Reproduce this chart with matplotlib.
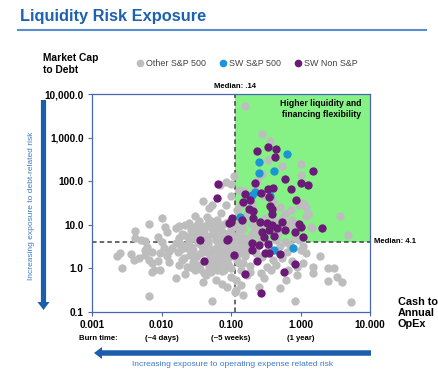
import matplotlib
matplotlib.use("Agg")
import matplotlib.pyplot as plt
from matplotlib.lines import Line2D
from matplotlib.patches import FancyArrow

plt.rcParams['font.family'] = ['Liberation Sans', 'DejaVu Sans']

# axis ticks
x_ticks = [0.001, 0.01, 0.1, 1, 10]
x_labels = ["0.001", "0.010", "0.100", "1.000", "10.000"]
burn_labels = ["(~4 days)", "(~5 weeks)", "(1 year)"]
y_ticks = [0.1, 1, 10, 100, 1000, 10000]
y_labels = ["0.1", "1.0", "10.0", "100.0", "1,000.0", "10,000.0"]

median_x = 0.115   # drawn position of the ".14" median line
median_y = 4.1

# SW Non S&P (purple)
non_sp_x = [0.24, 0.34, 0.45, 0.43, 1.5, 0.6, 1.02, 1.3, 0.22, 0.72, 0.34, 0.4,
            0.16, 0.27, 0.35, 0.86, 0.15, 0.19, 0.36, 0.39, 0.18, 0.21, 0.39,
            0.105, 0.094, 0.145, 0.21, 0.26, 0.33, 0.39, 0.54, 0.94, 1.02, 2.05,
            0.28, 0.35, 0.46, 0.6, 0.82, 0.41, 0.3, 1.07, 0.092, 0.2, 0.25, 0.34,
            0.2, 0.31, 0.35, 0.51, 0.11, 0.24, 0.82, 0.16, 0.58, 0.27, 0.064,
            0.062, 0.036, 0.041, 0.089, 0.1]
non_sp_y = [500, 610, 550, 360, 170, 115, 92, 83, 92, 65, 65, 70,
            50, 55, 44, 37, 33, 37, 27, 23, 23, 21, 17.5,
            14, 11, 13, 14, 11.7, 10.8, 9.8, 11.7, 10.2, 9, 8.5,
            6.9, 7.5, 8.3, 7.8, 6.9, 5.6, 5.3, 5.3, 4.7, 3.9, 3.4, 3.55,
            2.7, 2.3, 2.3, 2.1, 2.0, 1.5, 1.25, 0.74, 0.84, 0.27, 86,
            42, 4.6, 1.47, 4.6, 11.7]

# SW S&P 500 (blue)
sw_sp_x = [0.65, 0.25, 0.25, 0.41, 0.22, 0.36, 0.134, 0.42, 0.77, 0.2]
sw_sp_y = [420, 270, 155, 168, 57, 45, 15, 2.6, 2.9, 48]

# Other S&P 500 (grey)
other_x = [0.16, 0.28, 0.36, 0.34, 0.54, 1.0, 1.0, 0.11, 0.085, 0.07, 0.13, 0.085,
           0.94, 1.2, 1.3, 3.7, 4.9, 1.4, 0.74, 0.82, 1.45, 1.03, 1.9, 1.07, 1.5,
           1.5, 2.5, 3.0, 3.3, 2.5, 4.0, 0.82, 5.4, 0.88, 0.67, 0.0067, 0.054,
           0.114, 0.15, 0.01, 0.0067, 0.0114, 0.0041, 0.0041, 0.005, 0.0057,
           0.0025, 0.0023, 0.0027, 0.0037, 0.004, 0.0047, 0.0057, 0.0072, 0.0079,
           0.0061, 0.0067, 0.0074, 0.0088, 0.0103, 0.0057, 0.0074, 0.0094, 0.012,
           0.016, 0.018, 0.021, 0.014, 0.017, 0.0235, 0.013, 0.018, 0.0235, 0.0094,
           0.028, 0.03, 0.038, 0.049, 0.049, 0.04, 0.032, 0.033, 0.044, 0.052,
           0.061, 0.061, 0.057, 0.054, 0.072, 0.063, 0.052, 0.027, 0.041, 0.057,
           0.027, 0.072, 0.11, 0.14, 0.063, 0.088, 0.12, 0.15, 0.027, 0.041, 0.063,
           0.1, 0.118, 0.088, 0.118, 0.25, 0.19, 0.27, 0.1, 0.153, 1.1, 1.3, 1.2,
           0.035, 0.045, 0.03, 0.022, 0.065, 0.075, 0.09, 0.1, 0.12, 0.13, 0.16,
           0.18, 0.2, 0.22, 0.25, 0.3, 0.35, 0.45, 0.5, 0.6, 0.7, 0.28, 0.4, 0.45,
           0.33, 0.23, 0.17, 0.13, 0.095, 0.08, 0.07, 0.05, 0.045, 0.038, 0.025,
           0.02, 0.016, 0.011, 0.012, 0.02, 0.028, 0.035, 0.055, 0.075, 0.1, 0.14,
           0.17, 0.19, 0.3, 0.06, 0.04, 0.075, 0.14, 0.022, 0.06, 0.08, 0.095,
           0.11, 0.045, 0.035, 0.065, 0.15, 0.17, 0.2, 0.18, 0.22, 0.24, 0.28,
           0.3, 0.4, 0.5, 0.55, 0.65, 0.75, 0.12, 0.14, 0.1, 0.15, 0.2, 0.26,
           0.31, 0.42, 0.48, 0.6, 0.8, 0.95, 1.1, 0.65, 0.55, 0.75, 0.9, 1.2,
           0.38, 0.62, 0.5, 0.03, 0.016, 0.013, 0.009,
           # dense core of the cloud
           0.02, 0.024, 0.029, 0.034, 0.04, 0.047, 0.056, 0.067, 0.078, 0.09,
           0.105, 0.125, 0.019, 0.023, 0.028, 0.033, 0.039, 0.046, 0.054, 0.065,
           0.076, 0.088, 0.1, 0.12, 0.14, 0.021, 0.026, 0.031, 0.037, 0.043,
           0.05, 0.059, 0.07, 0.082, 0.095, 0.11, 0.13, 0.16, 0.018, 0.025,
           0.032, 0.042, 0.052, 0.062, 0.073, 0.085, 0.097, 0.115, 0.135, 0.027,
           0.036, 0.048, 0.058, 0.068, 0.08, 0.092, 0.17, 0.19, 0.21, 0.23]
other_y = [5300, 1200, 830, 300, 220, 250, 140, 130, 95, 81, 62, 28,
           28, 16, 17, 16, 5.8, 8.9, 22, 8.9, 8.4, 2.6, 1.9, 1.3, 1.07,
           0.78, 1.0, 1.0, 0.63, 0.51, 0.5, 0.18, 0.17, 0.7, 0.91, 0.23, 0.18,
           0.29, 0.24, 14, 10.4, 8.9, 7.2, 5.0, 4.5, 4.3,
           2.2, 1.9, 1.0, 2.1, 1.6, 1.7, 2.6, 0.82, 0.91,
           3.1, 1.55, 1.3, 5.2, 4.0, 2.0, 2.4, 2.2, 6.8,
           8.4, 5.0, 5.8, 2.9, 2.4, 2.9, 1.4, 1.2, 1.07, 0.91,
           8.4, 5.0, 8.4, 11.5, 24, 35, 2.0, 1.0, 0.7, 0.82,
           1.2, 2.9, 5.8, 28, 18.5, 12.8, 8.9, 7.6, 7.6, 6.5,
           3.1, 3.8, 3.1, 3.8, 1.8, 1.3, 1.55, 1.32, 1.07, 0.78, 0.91,
           0.63, 0.54, 0.37, 0.32, 0.37, 0.82, 0.78, 85, 60, 32, 18.5, 26,
           12, 15, 16, 10, 9, 7, 6, 8, 10, 6.5, 5,
           4.5, 6, 8, 5.5, 4.5, 3, 4.5, 3.2, 4, 3.5, 1.8, 1.6, 1.2,
           1.1, 2.2, 2.5, 2.2, 2.5, 2.0, 1.5, 1.6, 2.4, 3.2, 4.2,
           3.5, 3.8, 3.0, 1.9, 1.6, 1.4, 1.2, 1.05, 0.85, 1.0, 0.9,
           0.7, 1.15, 0.6, 0.55, 0.5, 0.45, 0.42, 0.75, 4.5, 5.0, 3.5,
           4.5, 5.5, 7, 2.3, 12, 18, 30, 40, 70, 100, 150,
           45, 35, 25, 14, 10, 13, 22, 30, 45, 8, 10.5, 9,
           14, 12.5, 6.5, 18, 5, 4.5, 3.2, 2.4, 1.7, 1.5, 1.1, 2.2,
           0.9, 0.55, 0.35, 0.9, 0.6, 2.5, 1.5,
           6.2, 5.3, 6.8, 4.9, 6.0, 4.2, 7.2, 5.4, 6.6, 4.8,
           5.9, 4.6, 2.8, 3.3, 2.6, 3.9, 2.9, 3.6, 2.7, 3.2,
           2.5, 3.0, 2.7, 3.4, 2.6, 1.7, 2.0, 1.8, 2.2, 1.5,
           1.9, 1.3, 1.7, 1.4, 1.8, 2.0, 1.3, 1.9, 9.5, 11,
           10, 9.2, 12, 10.5, 9.8, 11, 12.5, 9.5, 8.6, 1.05,
           0.95, 1.1, 0.98, 1.12, 0.9, 1.25, 3.3, 2.8, 3.8, 3.0]

W, H = 439, 381
fig = plt.figure(figsize=(W / 100, H / 100), dpi=100)
ax = fig.add_axes([92 / W, 1 - 312 / H, 278 / W, 218 / H])
ax.set_xscale('log')
ax.set_yscale('log')
ax.set_xlim(0.001, 10)
ax.set_ylim(0.1, 10000)

# high liquidity quadrant
ax.fill_between([median_x, 10], median_y, 10000, color='#86F286', lw=0, zorder=0)
ax.axvline(median_x, color='#404040', ls=(0, (3, 2)), lw=1.1, zorder=1)
ax.axhline(median_y, color='#404040', ls=(0, (3, 2)), lw=1.1, zorder=1)

ms = 36
ax.scatter(other_x, other_y, s=ms, color='#BDBDBD', lw=0, zorder=2)
ax.scatter(sw_sp_x, sw_sp_y, s=ms, color='#1B95D6', lw=0, zorder=3)
ax.scatter(non_sp_x, non_sp_y, s=ms, color='#6B1A78', lw=0, zorder=4)

for sp in ax.spines.values():
    sp.set_color('#4A66B0')
    sp.set_linewidth(0.9)
ax.set_xticks(x_ticks)
ax.set_xticklabels(x_labels, fontsize=7.2, fontweight='bold')
ax.set_yticks(y_ticks)
ax.set_yticklabels(y_labels, fontsize=7.2, fontweight='bold')
ax.minorticks_off()
ax.tick_params(axis='both', length=3, width=0.8, color='#4A66B0', pad=3)

ax.text(median_x, 10000 * 1.25, "Median: .14", ha='center', va='bottom',
        fontsize=5.6, fontweight='bold')
ax.text(11.5, median_y, "Median: 4.1", ha='left', va='center',
        fontsize=5.6, fontweight='bold')
ax.text(0.824, 0.975, "Higher liquidity and\nfinancing flexibility", transform=ax.transAxes,
        ha='center', va='top', fontsize=6.2, fontweight='bold', linespacing=1.15)

# burn time row
fig.text(98 / W, 1 - 338 / H, "Burn time:", ha='center', va='center',
         fontsize=5.6, fontweight='bold')
for xv, lab in zip(x_ticks[1:4], burn_labels):
    ax.annotate(lab, xy=(xv, 0), xycoords=('data', 'axes fraction'),
                xytext=(0, -19), textcoords='offset points', ha='center', va='center',
                fontsize=5.6, fontweight='bold')

# title and rule
fig.text(20 / W, 1 - 16 / H, "Liquidity Risk Exposure", ha='left', va='center',
         fontsize=11.8, fontweight='bold', color='#1C61B2')
fig.add_artist(Line2D([18 / W, 426 / W], [1 - 29.5 / H] * 2, color='#5A8ED0', lw=1.5))

fig.text(43 / W, 1 - 64 / H, "Market Cap\nto Debt", ha='left', va='center',
         fontsize=7.4, fontweight='bold', linespacing=1.2)
fig.text(398 / W, 1 - 313 / H, "Cash to\nAnnual\nOpEx", ha='left', va='center',
         fontsize=7.8, fontweight='bold', linespacing=1.15)

handles = [Line2D([], [], marker='o', ls='', ms=5.5, mew=0, color=c)
           for c in ['#BDBDBD', '#1B95D6', '#6B1A78']]
fig.legend(handles, ["Other S&P 500", "SW S&P 500", "SW Non S&P"], ncol=3,
           loc='center', bbox_to_anchor=(246 / W, 1 - 64 / H), frameon=False,
           fontsize=6.4, handletextpad=0.1, columnspacing=1.3, handlelength=1.2,
           labelcolor='#404040')

# risk arrows
fig.add_artist(FancyArrow(43.5 / W, 1 - 100 / H, 0, -210 / H, width=4.5 / H,
                          head_width=12 / W, head_length=8 / H, length_includes_head=True,
                          color='#1A5EAD', lw=0, transform=fig.transFigure))
fig.text(32 / W, 1 - 206 / H, "Increasing exposure to debt-related risk", rotation=90,
         ha='center', va='center', fontsize=6, color='#3C7BC6')
fig.add_artist(FancyArrow(371 / W, 1 - 353 / H, -277 / W, 0, width=5.5 / H,
                          head_width=12 / H, head_length=8 / W, length_includes_head=True,
                          color='#1A5EAD', lw=0, transform=fig.transFigure))
fig.text(233 / W, 1 - 365 / H, "Increasing exposure to operating expense related risk",
         ha='center', va='center', fontsize=6, color='#3C7BC6')

fig.savefig("out.png", dpi=100)
